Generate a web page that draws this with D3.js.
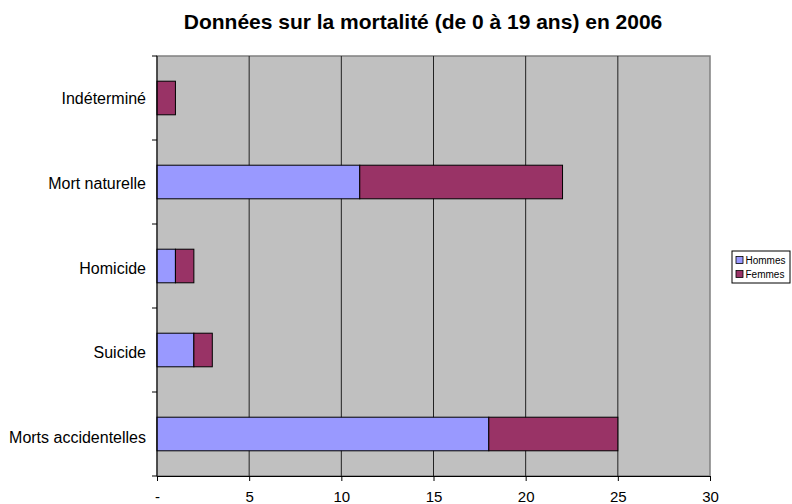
<!DOCTYPE html>
<html><head><meta charset="utf-8">
<script src="https://cdn.jsdelivr.net/npm/d3@7"></script>
<style>body{margin:0;background:#fff;font-family:"Liberation Sans",Arial,sans-serif}</style>
</head><body>
<svg id="c" width="792" height="504"></svg>
<script>
const categories = ["Indéterminé","Mort naturelle","Homicide","Suicide","Morts accidentelles"];
const hommes = [0, 11, 1, 2, 18];
const femmes = [1, 11, 1, 1, 7];
const seriesNames = ["Hommes","Femmes"];
const seriesColors = ["#9999FF","#993366"];
const xTicks = [0,5,10,15,20,25,30];
const title = "Données sur la mortalité (de 0 à 19 ans) en 2006";

const svg = d3.select("#c");
const m = {l:157, r:710, t:56, b:476};
const x = d3.scaleLinear().domain([0,30]).range([m.l, m.r]);
const y = d3.scaleBand().domain(categories).range([m.t, m.b]).paddingInner(0.6).paddingOuter(0.3);
const yb = d3.scaleBand().domain(categories).range([m.t, m.b]);
const yl = d3.scaleBand().domain(categories).range([m.t, m.b+4]);

svg.append("text").attr("x", 423).attr("y", 29).attr("text-anchor","middle")
  .attr("font-size", 21).attr("font-weight","bold").text(title);

svg.append("rect").attr("x", m.l).attr("y", m.t).attr("width", m.r-m.l).attr("height", m.b-m.t)
  .attr("fill","#C0C0C0").attr("stroke","#808080").attr("stroke-width",1.5);

svg.append("g").selectAll("line").data(xTicks.slice(1,-1)).join("line")
  .attr("x1", d=>x(d)).attr("x2", d=>x(d)).attr("y1", m.t).attr("y2", m.b)
  .attr("stroke","#222").attr("stroke-width",1);

const data = categories.map((c,i)=>({c, v:[hommes[i], femmes[i]]}));
data.forEach(d=>{
  let acc = 0;
  d.v.forEach((val,j)=>{
    if (val>0) {
      svg.append("rect").attr("x", x(acc)).attr("y", y(d.c)).attr("width", x(acc+val)-x(acc))
        .attr("height", y.bandwidth()).attr("fill", seriesColors[j]).attr("stroke","#000").attr("stroke-width",1);
    }
    acc += val;
  });
});

// x axis
const xa = svg.append("g").attr("transform",`translate(0,${m.b})`)
  .call(d3.axisBottom(x).tickValues(xTicks).tickSize(5).tickPadding(10).tickFormat(d=>d===0?"-":d));
xa.select(".domain").attr("stroke","#000");
xa.selectAll("text").attr("font-size",15).attr("font-family","Liberation Sans, Arial, sans-serif").attr("fill","#000");

// y axis
svg.append("line").attr("x1",m.l).attr("x2",m.l).attr("y1",m.t).attr("y2",m.b).attr("stroke","#000");
const bounds = categories.map(c=>yb(c)).concat([m.b]);
svg.append("g").selectAll("line").data(bounds).join("line")
  .attr("x1", m.l-5).attr("x2", m.l).attr("y1", d=>d).attr("y2", d=>d).attr("stroke","#000");
svg.append("g").selectAll("text").data(categories).join("text")
  .attr("x", m.l-11).attr("y", d=>yl(d)+yl.bandwidth()/2).attr("dy","0.35em")
  .attr("text-anchor","end").attr("font-size",16).text(d=>d);

// legend
const lg = svg.append("g").attr("transform","translate(732,251)");
lg.append("rect").attr("width",58).attr("height",32).attr("fill","#fff").attr("stroke","#000");
seriesNames.forEach((n,i)=>{
  lg.append("rect").attr("x",4).attr("y",5.5+i*14).attr("width",7).attr("height",7)
    .attr("fill",seriesColors[i]).attr("stroke","#000").attr("stroke-width",0.8);
  lg.append("text").attr("x",13.5).attr("y",9+i*14).attr("dy","0.35em").attr("font-size",10).text(n);
});
</script>
</body></html>
